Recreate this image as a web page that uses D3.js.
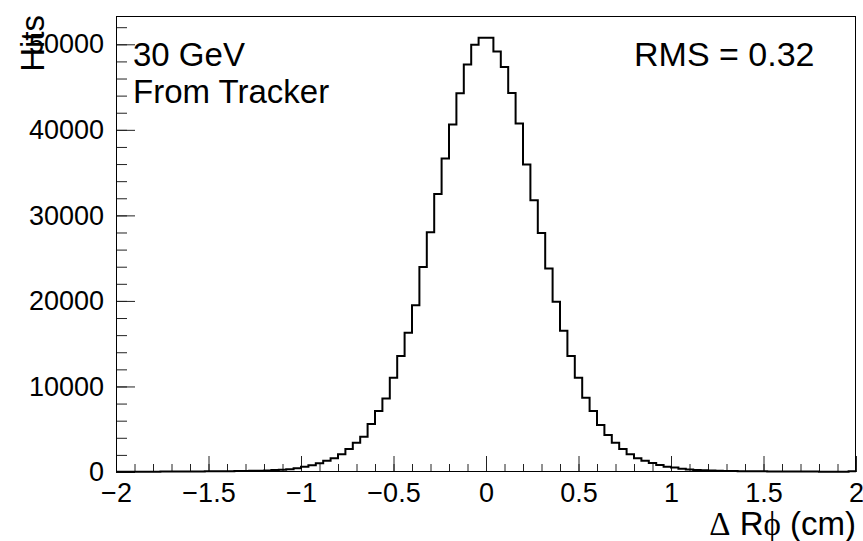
<!DOCTYPE html>
<html lang="en">
<head>
  <meta charset="UTF-8">
  <title>Delta R phi</title>
  <style>
    body { margin: 0; background: #fff; }
    svg text { font-family: "Liberation Sans", Arial, sans-serif; fill: #000; }
  </style>
</head>
<body>
  <svg id="svg" width="863" height="541"></svg>

  <script src="https://d3js.org/d3.v7.min.js"></script>
  <script>
    // histogram: 100 bins from -2 to 2
    const xMin = -2, xMax = 2, nBins = 100
    const counts = [
      30, 30, 35, 35, 40, 40, 45, 50, 55, 60,
      65, 70, 75, 80, 90, 95, 105, 120, 135, 155,
      190, 220, 260, 330, 450, 620, 780, 1010, 1320, 1600,
      2065, 2690, 3420, 4130, 5600, 7125, 8600, 11020, 13550, 16270,
      19500, 23980, 28030, 32500, 36640, 40610, 44270, 47650, 49950, 50770,
      50770, 49170, 47340, 44300, 40730, 35940, 31770, 27950, 23790, 19890,
      16500, 13550, 11020, 8680, 7125, 5490, 4320, 3420, 2690, 2070,
      1600, 1320, 1050, 820, 620, 520, 385, 300, 240, 210,
      170, 150, 130, 115, 100, 90, 80, 75, 70, 65,
      60, 55, 50, 45, 45, 40, 40, 35, 35, 100
    ]
    const xMajorTicks = [-2, -1.5, -1, -0.5, 0, 0.5, 1, 1.5, 2]
    const yMajorTicks = [0, 10000, 20000, 30000, 40000, 50000]
    const labels = ["30 GeV", "From Tracker"]
    const statText = "RMS = 0.32"
    const yTitle = "Hits"

    const padL = 116, padR = 856, padT = 16, padB = 472

    const binWidth = (xMax - xMin) / nBins
    const bins = counts.map((c, i) => ({ x: xMin + i * binWidth, y: c }))

    const x = d3.scaleLinear().domain([xMin, xMax]).range([padL, padR])
    const yMax = d3.max(counts) * 1.05
    const y = d3.scaleLinear().domain([0, yMax]).range([padB, padT])

    const svg = d3.select("#svg")

    // minor ticks
    const xMinor = d3.range(0, 41).map(i => xMin + i * 0.1)
    const yMinor = d3.range(0, Math.floor(yMax / 2000) + 1).map(i => i * 2000)

    svg.append("g")
      .attr("transform", `translate(0,${padB})`)
      .call(d3.axisBottom(x).tickValues(xMinor).tickSize(-8).tickFormat(""))
      .call(g => g.select(".domain").remove())

    svg.append("g")
      .attr("transform", `translate(${padL},0)`)
      .call(d3.axisLeft(y).tickValues(yMinor).tickSize(-11).tickFormat(""))
      .call(g => g.select(".domain").remove())

    // major ticks + labels
    svg.append("g")
      .attr("transform", `translate(0,${padB})`)
      .call(d3.axisBottom(x).tickValues(xMajorTicks).tickSizeInner(-16).tickSizeOuter(0)
        .tickPadding(11).tickFormat(d3.format("~g")))
      .call(g => g.select(".domain").remove())
      .call(g => g.selectAll("text").style("font-size", "27px").style("font-family", "Liberation Sans"))

    svg.append("g")
      .attr("transform", `translate(${padL},0)`)
      .call(d3.axisLeft(y).tickValues(yMajorTicks).tickSizeInner(-19).tickSizeOuter(0)
        .tickPadding(12).tickFormat(d3.format("d")))
      .call(g => g.select(".domain").remove())
      .call(g => g.selectAll("text").style("font-size", "27px").style("font-family", "Liberation Sans"))

    svg.selectAll(".tick line").attr("stroke", "#222")

    // histogram outline
    const pts = bins.concat([{ x: xMax, y: counts[counts.length - 1] }])
    const line = d3.line()
      .x(d => x(d.x))
      .y(d => y(d.y))
      .curve(d3.curveStepAfter)

    svg.append("path")
      .datum(pts)
      .attr("d", line)
      .attr("fill", "none")
      .attr("stroke", "#000")
      .attr("stroke-width", 2)

    // frame
    svg.append("rect")
      .attr("x", padL + 0.5).attr("y", padT + 0.5)
      .attr("width", padR - padL - 1).attr("height", padB - padT - 1)
      .attr("fill", "none")
      .attr("stroke", "#000")
      .attr("stroke-width", 1)

    // axis titles
    svg.append("text")
      .attr("transform", `translate(44,${padT - 1}) rotate(-90)`)
      .attr("text-anchor", "end")
      .style("font-size", "33px")
      .text(yTitle)

    const xt = svg.append("text")
      .attr("x", padR)
      .attr("y", 535)
      .attr("text-anchor", "end")
      .style("font-size", "33px")
    xt.append("tspan").style("font-family", "Liberation Serif").text("\u0394")
    xt.append("tspan").text(" R")
    xt.append("tspan").style("font-family", "Liberation Serif").text("\u03d5")
    xt.append("tspan").text(" (cm)")

    // labels
    svg.selectAll(".lbl")
      .data(labels)
      .enter()
      .append("text")
      .attr("class", "lbl")
      .attr("x", 133)
      .attr("y", (d, i) => 66 + i * 37)
      .style("font-size", "33px")
      .text(d => d)

    svg.append("text")
      .attr("x", 634)
      .attr("y", 66)
      .style("font-size", "34px")
      .text(statText)
  </script>
</body>
</html>
